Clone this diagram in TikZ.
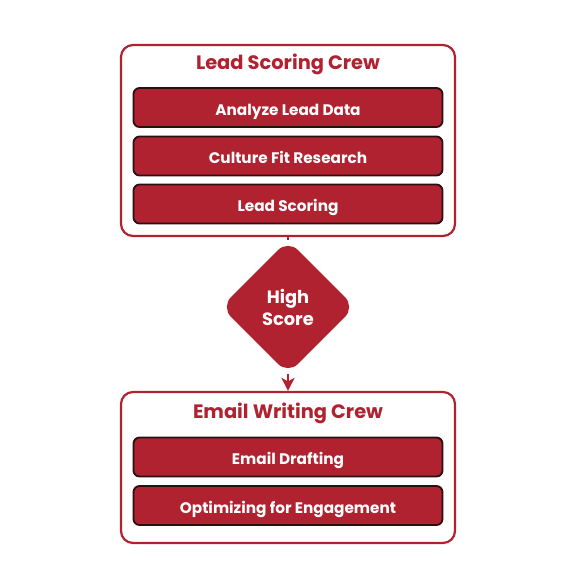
\documentclass[tikz,border=0pt]{standalone}
\usepackage{fontspec}
\setmainfont{Poppins}
\usetikzlibrary{shapes.geometric,arrows.meta}
\definecolor{crew}{RGB}{176,34,48}
\definecolor{edge}{RGB}{40,16,18}
\begin{document}
\begin{tikzpicture}[x=1pt,y=-1pt,
  crewbox/.style={draw=crew,line width=2.2pt,rounded corners=12pt,fill=white},
  crewtitle/.style={text=crew,font=\bfseries\fontsize{19.4}{20}\selectfont,inner sep=0pt,
    text height=13.6pt,text depth=0pt},
  taskbox/.style={draw=edge,line width=1.8pt,rounded corners=6pt,fill=crew,
    minimum width=309pt,minimum height=39pt,inner sep=0pt,
    text height=15pt,text depth=0pt,
    text=white,font=\bfseries\fontsize{15.3}{16}\selectfont},
  decision/.style={diamond,fill=crew,rounded corners=14pt,minimum width=134pt,
    minimum height=134pt,inner sep=0pt,text=white,align=center,
    font=\bfseries\fontsize{17.8}{22}\selectfont},
  link/.style={draw=crew,line width=2.2pt}]
\useasboundingbox[fill=white] (0,0) rectangle (579,587);

% first crew
\node[crewbox,minimum width=334pt,minimum height=191pt,inner sep=0pt] (lsc) at (288,140.5) {};
\node[crewtitle] (lsct) at (288,62.5) {Lead Scoring Crew};
\node[taskbox] (t1) at (288,107.5) {Analyze Lead Data};
\node[taskbox] (t2) at (288,156) {Culture Fit Research};
\node[taskbox] (t3) at (288,204) {Lead Scoring};

% decision
\node[decision] (dec) at (288,307) {High\\Score};

% second crew
\node[crewbox,minimum width=334pt,minimum height=151pt,inner sep=0pt] (ewc) at (288,467.5) {};
\node[crewtitle] (ewct) at (288,412) {Email Writing Crew};
\node[taskbox] (t4) at (288,457) {Email Drafting};
\node[taskbox] (t5) at (288,505.5) {Optimizing for Engagement};

% connectors
\draw[link] (lsc.south) -- (dec.north);
\draw[link,-{Stealth[length=13pt,width=13pt,inset=3.5pt]}] (dec.south) -- (ewc.north);
\end{tikzpicture}
\end{document}
